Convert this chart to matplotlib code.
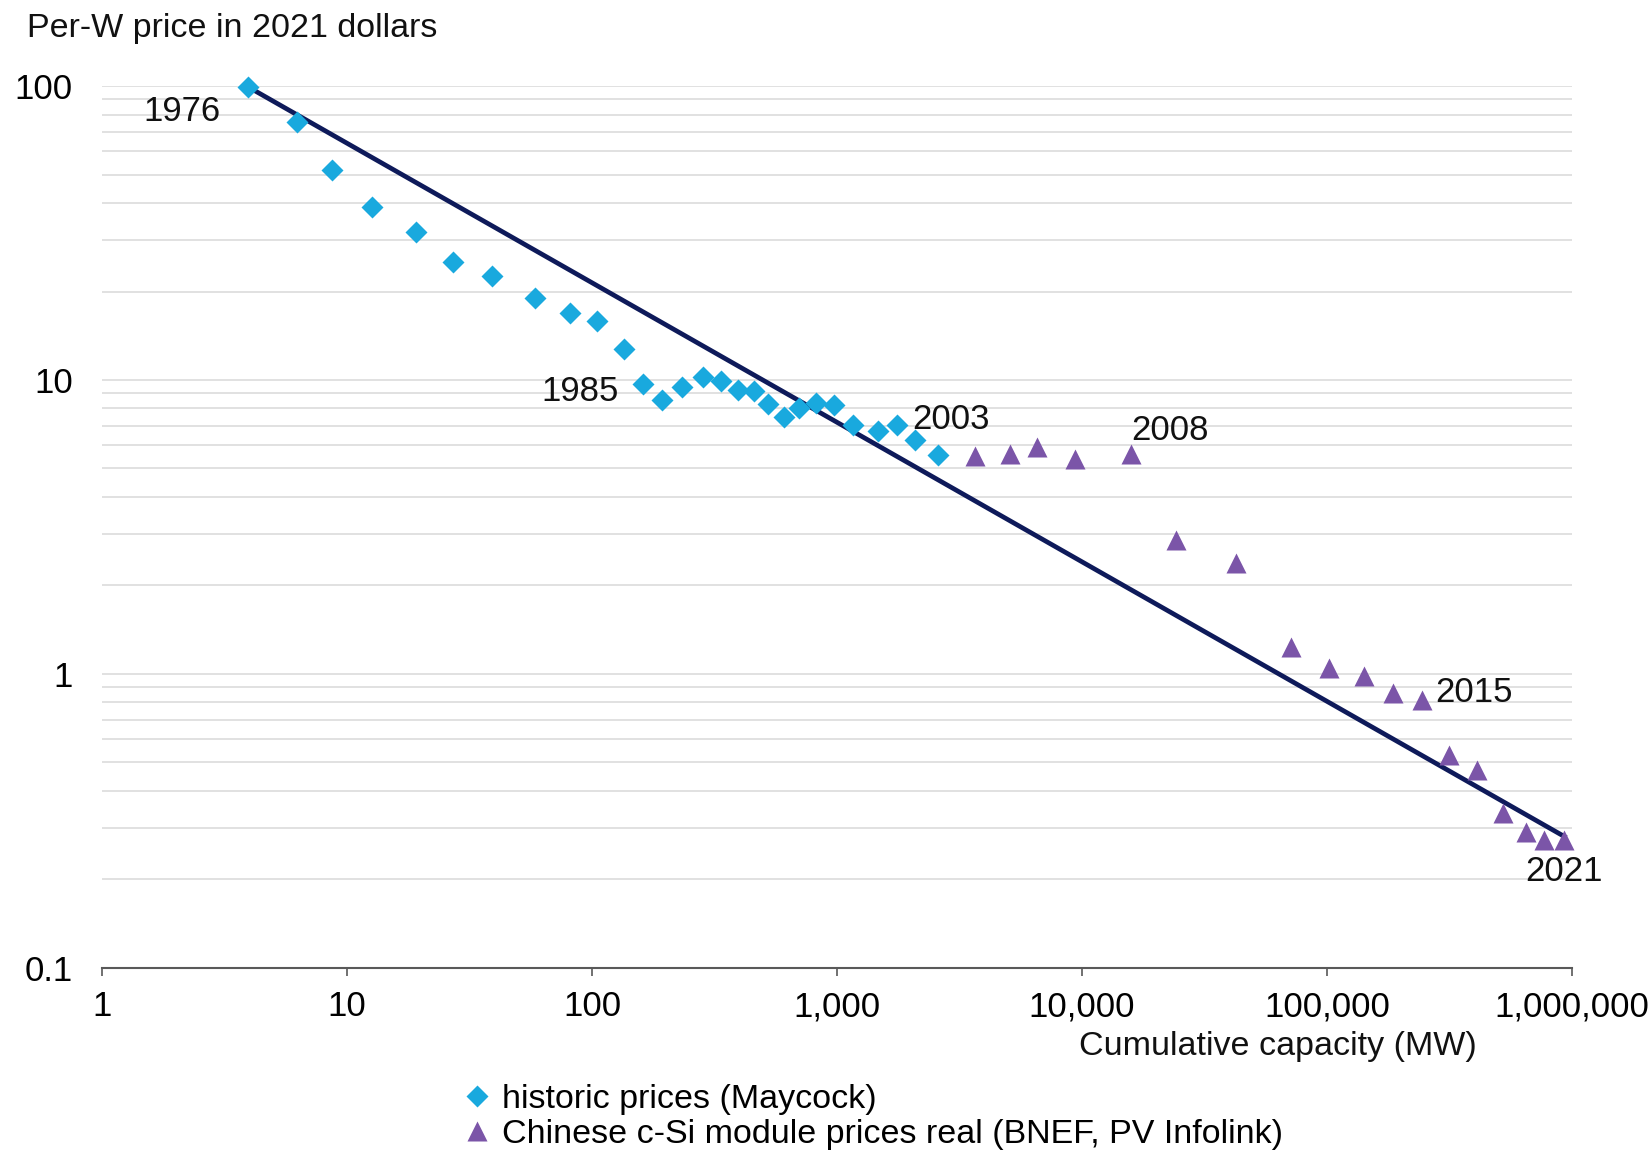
import numpy as np
import matplotlib.pyplot as plt
from matplotlib.ticker import FixedLocator, NullLocator, FuncFormatter

plt.rcParams['font.family'] = ['Liberation Sans', 'DejaVu Sans']

# historic prices (Maycock), 1976-2003
hist_mw = [3.96, 6.25, 8.66, 12.7, 19.1, 27.0, 39.0, 58.6, 81.3, 105, 135, 162, 194, 234,
           283, 335, 396, 460, 523, 606, 703, 824, 975, 1166, 1465, 1751, 2091, 2575]
hist_price = [99.2, 75.5, 52.0, 38.7, 31.8, 25.2, 22.5, 19.0, 16.9, 15.9, 12.7, 9.67, 8.55, 9.44,
              10.25, 9.92, 9.28, 9.21, 8.27, 7.49, 8.0, 8.34, 8.2, 7.01, 6.73, 7.01, 6.25, 5.57]

# Chinese c-Si module prices, 2004-2021
cn_mw = [3670, 5090, 6550, 9350, 15800, 24300, 42600, 71300, 101400, 142000, 186000,
         244000, 315000, 411000, 523000, 650000, 766000, 930000]
cn_price = [5.50, 5.62, 5.90, 5.38, 5.62, 2.86, 2.38, 1.24, 1.048, 0.981, 0.861,
            0.818, 0.531, 0.473, 0.337, 0.289, 0.273, 0.272]

# learning curve
trend_mw = [3.96, 930000]
trend_price = [99.2, 0.28]

# year labels: (series, index, text)
year_labels = [('h', 0, '1976'), ('h', 11, '1985'), ('h', 27, '2003'),
               ('c', 4, '2008'), ('c', 11, '2015'), ('c', 17, '2021')]

x_ticks = [1, 10, 100, 1000, 10000, 100000, 1000000]
y_ticks = [0.1, 1, 10, 100]

fs = 24.5

fig = plt.figure(figsize=(16.52, 11.5), dpi=100)
ax = fig.add_axes([0.0617, 0.1583, 0.8899, 0.7669])

# light gray gridlines at every 1..9 step of each decade
grid_vals = [m * 10.0 ** e for e in range(-1, 2) for m in range(2, 11)]
for g in grid_vals:
    ax.axhline(g, color='#dcdcdc', lw=1.2, zorder=0)

ax.plot(trend_mw, trend_price, color='#0e1a5a', lw=3.4, zorder=2)
ax.plot(hist_mw, hist_price, 'D', color='#19a9de', ms=11, mec='none', zorder=3,
        clip_on=False, label='historic prices (Maycock)')
ax.plot(cn_mw, cn_price, '^', color='#7b55a8', ms=14, mec='none', zorder=3,
        clip_on=False, label='Chinese c-Si module prices real (BNEF, PV Infolink)')

offsets = {'1976': (-66, -24, 'center'), '1985': (-25, -7, 'right'),
           '2003': (-25, 35, 'left'), '2008': (1, 23, 'left'),
           '2015': (13, 7, 'left'), '2021': (0, -31, 'center')}
for s, i, t in year_labels:
    xs, ys = (hist_mw, hist_price) if s == 'h' else (cn_mw, cn_price)
    dx, dy, ha = offsets[t]
    ax.annotate(t, (xs[i], ys[i]), xytext=(dx, dy), textcoords='offset pixels',
                ha=ha, va='center', fontsize=25, color='#111111')

ax.set_xscale('log')
ax.set_yscale('log')
ax.set_xlim(1, 1000000)
ax.set_ylim(0.1, 100)

ax.xaxis.set_major_locator(FixedLocator(x_ticks))
ax.xaxis.set_minor_locator(NullLocator())
ax.xaxis.set_major_formatter(FuncFormatter(lambda v, p: f'{v:,.0f}'))
ax.yaxis.set_major_locator(FixedLocator(y_ticks))
ax.yaxis.set_minor_locator(NullLocator())
ax.yaxis.set_major_formatter(FuncFormatter(lambda v, p: f'{v:g}'))

for sp in ['top', 'right', 'left']:
    ax.spines[sp].set_visible(False)
ax.spines['bottom'].set_color('#595959')
ax.spines['bottom'].set_linewidth(1.5)
ax.tick_params(axis='x', length=6, width=1.2, color='#595959', labelsize=25, pad=10)
ax.tick_params(axis='y', length=0, labelsize=25, pad=21)

fig.text(0.0163, 0.975, 'Per-W price in 2021 dollars', fontsize=fs, va='center', ha='left',
         color='#111111')
fig.text(0.894, 0.090, 'Cumulative capacity (MW)', fontsize=fs, va='center', ha='right',
         color='#111111')

fig.legend(loc='upper left', bbox_to_anchor=(0.270, 0.069), frameon=False, fontsize=fs,
           handletextpad=0.25, labelspacing=0.1, borderaxespad=0, handlelength=1.0)

fig.savefig('out.png', dpi=100)
